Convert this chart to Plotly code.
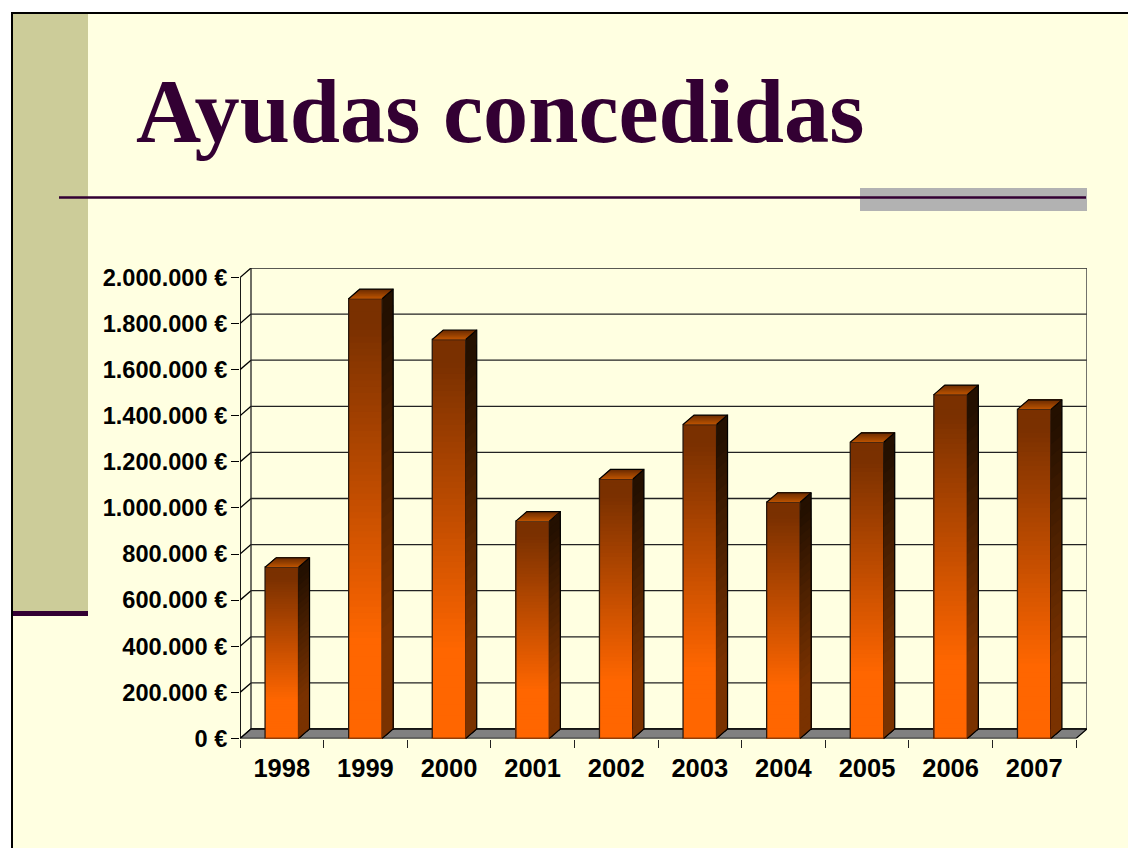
import plotly.graph_objects as go

years = [1998, 1999, 2000, 2001, 2002, 2003, 2004, 2005, 2006, 2007]
values = [743000, 1908000, 1731000, 943000, 1126000, 1362000, 1025000, 1285000, 1492000, 1428000]
y_ticks = [0, 200000, 400000, 600000, 800000, 1000000, 1200000, 1400000, 1600000, 1800000, 2000000]
y_labels = ["0 €", "200.000 €", "400.000 €", "600.000 €", "800.000 €", "1.000.000 €",
            "1.200.000 €", "1.400.000 €", "1.600.000 €", "1.800.000 €", "2.000.000 €"]
title_text = "Ayudas concedidas"

W, H = 1128, 848
L, R, T, B = 240, 1087, 268, 738.5
CAT_PX = 83.6
Y_PX = 461.5 / 2000000
DX = 11 / CAT_PX
DY = 9.5 / Y_PX
BAR_W = 33.5 / CAT_PX
X0 = years[0] - 0.5
X1 = years[-1] + 0.5
INK = "#330033"


def mix(a, b, t):
    t = max(0, min(1, t))
    return "rgb(%d,%d,%d)" % tuple(round(a[i] + (b[i] - a[i]) * t) for i in range(3))


def ramp(a, b, t):
    return mix(a, b, (t - 0.06) / 0.72)


def px(x):
    return x / W


def py(y):
    return 1 - y / H


def page_rect(x0, y0, x1, y1, color):
    return dict(type="rect", xref="paper", yref="paper", x0=px(x0), x1=px(x1), y0=py(y0), y1=py(y1),
                fillcolor=color, line_width=0, layer="below")


def page_line(x0, y0, x1, y1, color, width):
    return dict(type="line", xref="paper", yref="paper", x0=px(x0), x1=px(x1), y0=py(y0), y1=py(y1),
                line=dict(color=color, width=width), layer="below")


def data_line(x0, y0, x1, y1, color="#222222", width=1.3):
    return dict(type="line", xref="x", yref="y", x0=x0, x1=x1, y0=y0, y1=y1,
                line=dict(color=color, width=width), layer="below")


shapes = [
    page_rect(12, 12, W, H, "#FFFFE1"),
    page_rect(13, 14, 88, 612, "#CCCC99"),
    page_rect(13, 611, 88, 616, INK),
    page_rect(860, 188, 1087, 211, "#B2B2B2"),
    page_line(12, 13, W, 13, "#000000", 2),
    page_line(12, 12, 12, H, "#000000", 2),
    page_line(59, 197.5, 1086, 197.5, INK, 2.4),
]

for v in y_ticks:
    shapes.append(data_line(X0, v, X0 + DX, v + DY, "#000000", 1.3))
    shapes.append(data_line(X0 + DX, v + DY, X1 + DX, v + DY))
shapes.append(data_line(X0, 0, X0, y_ticks[-1], "#000000", 1.8))
shapes.append(data_line(X0 + DX, DY, X0 + DX, y_ticks[-1] + DY, "#222222", 1.3))
shapes.append(data_line(X1 + DX, DY, X1 + DX, y_ticks[-1] + DY, "#444444", 1.5))
shapes.append(dict(type="path", xref="x", yref="y", layer="below",
                   path=f"M{X0},0 L{X1},0 L{X1 + DX},{DY} L{X0 + DX},{DY} Z",
                   fillcolor="#808080", line=dict(color="#000000", width=1.3)))

fig = go.Figure()

# front faces: overlapping shrinking bars give a seamless gradient
N = 70
seg_x, seg_h, seg_c = [], [], []
for yr, v in zip(years, values):
    for i in range(N):
        seg_x.append(yr)
        seg_h.append(v * (N - i) / N)
        seg_c.append(ramp((122, 48, 0), (255, 102, 0), (i + 0.5) / N))
fig.add_trace(go.Bar(x=seg_x, y=seg_h, width=BAR_W, marker=dict(color=seg_c, line_width=0),
                     showlegend=False, hoverinfo="skip"))
fig.add_trace(go.Bar(x=years, y=values, width=BAR_W,
                     marker=dict(color="rgba(0,0,0,0)", line=dict(color="#2a1a10", width=1.3)),
                     showlegend=False))

NS = 28
for yr, v in zip(years, values):
    xr = yr + BAR_W / 2
    for i in range(NS):
        hi = v * (NS - i) / NS
        fig.add_trace(go.Scatter(x=[xr, xr + DX, xr + DX, xr, xr], y=[hi, hi + DY, DY, 0, hi],
                                 mode="lines", fill="toself", line=dict(width=0),
                                 fillcolor=ramp((36, 16, 0), (122, 50, 0), (i + 0.5) / NS),
                                 showlegend=False, hoverinfo="skip"))
    xl = yr - BAR_W / 2
    NT = 8
    for i in range(NT):
        f0 = i / NT
        fig.add_trace(go.Scatter(x=[xl + DX * f0, xr + DX * f0, xr + DX, xl + DX, xl + DX * f0],
                                 y=[v + DY * f0, v + DY * f0, v + DY, v + DY, v + DY * f0],
                                 mode="lines", fill="toself", line=dict(width=0),
                                 fillcolor=mix((190, 84, 0), (105, 42, 0), (i + 0.5) / NT),
                                 showlegend=False, hoverinfo="skip"))

ox, oy = [], []
for yr, v in zip(years, values):
    xl, xr = yr - BAR_W / 2, yr + BAR_W / 2
    ox += [xl, xl + DX, xr + DX, xr + DX, xr, None, xr + DX, xr, None]
    oy += [v, v + DY, v + DY, DY, 0, None, v + DY, v, None]
fig.add_trace(go.Scatter(x=ox, y=oy, mode="lines", line=dict(color="#000000", width=1.2),
                         showlegend=False, hoverinfo="skip"))

fig.update_layout(
    width=W, height=H, autosize=False,
    margin=dict(l=0, r=0, t=0, b=0, pad=0, autoexpand=False),
    paper_bgcolor="#FFFFFF", plot_bgcolor="rgba(0,0,0,0)",
    barmode="overlay", showlegend=False, shapes=shapes,
    font=dict(family="Liberation Sans", color="#000000"),
    title=dict(text=f"<b>{title_text}</b>", xref="paper", yref="paper", x=136 / W, xanchor="left",
               y=py(110), yanchor="middle",
               font=dict(family="Liberation Serif", size=90.3, color=INK)),
    xaxis=dict(domain=[L / W, R / W], range=[X0, X1 + DX], tickmode="array", tickvals=years,
               ticktext=[str(y) for y in years], ticks="", showgrid=False, zeroline=False, showline=False,
               tickfont=dict(family="Liberation Sans", size=25.5, color="#000000", weight=700),
               ticklabelstandoff=12,
               minor=dict(ticks="outside", tick0=X0, dtick=1, ticklen=8, tickwidth=1.3, tickcolor="#222222",
                          showgrid=False)),
    yaxis=dict(domain=[py(B), py(T)], range=[0, y_ticks[-1] + DY], tickmode="array", tickvals=y_ticks,
               ticktext=y_labels, ticks="outside", ticklen=8, tickwidth=1.3, tickcolor="#000000",
               showgrid=False, zeroline=False, showline=False,
               tickfont=dict(family="Liberation Sans", size=23.6, color="#000000", weight=700),
               ticklabelstandoff=-1),
)

fig.write_html("out.html", config={"displayModeBar": False},
               post_script="document.body.style.margin='0';document.body.style.overflow='hidden';")
